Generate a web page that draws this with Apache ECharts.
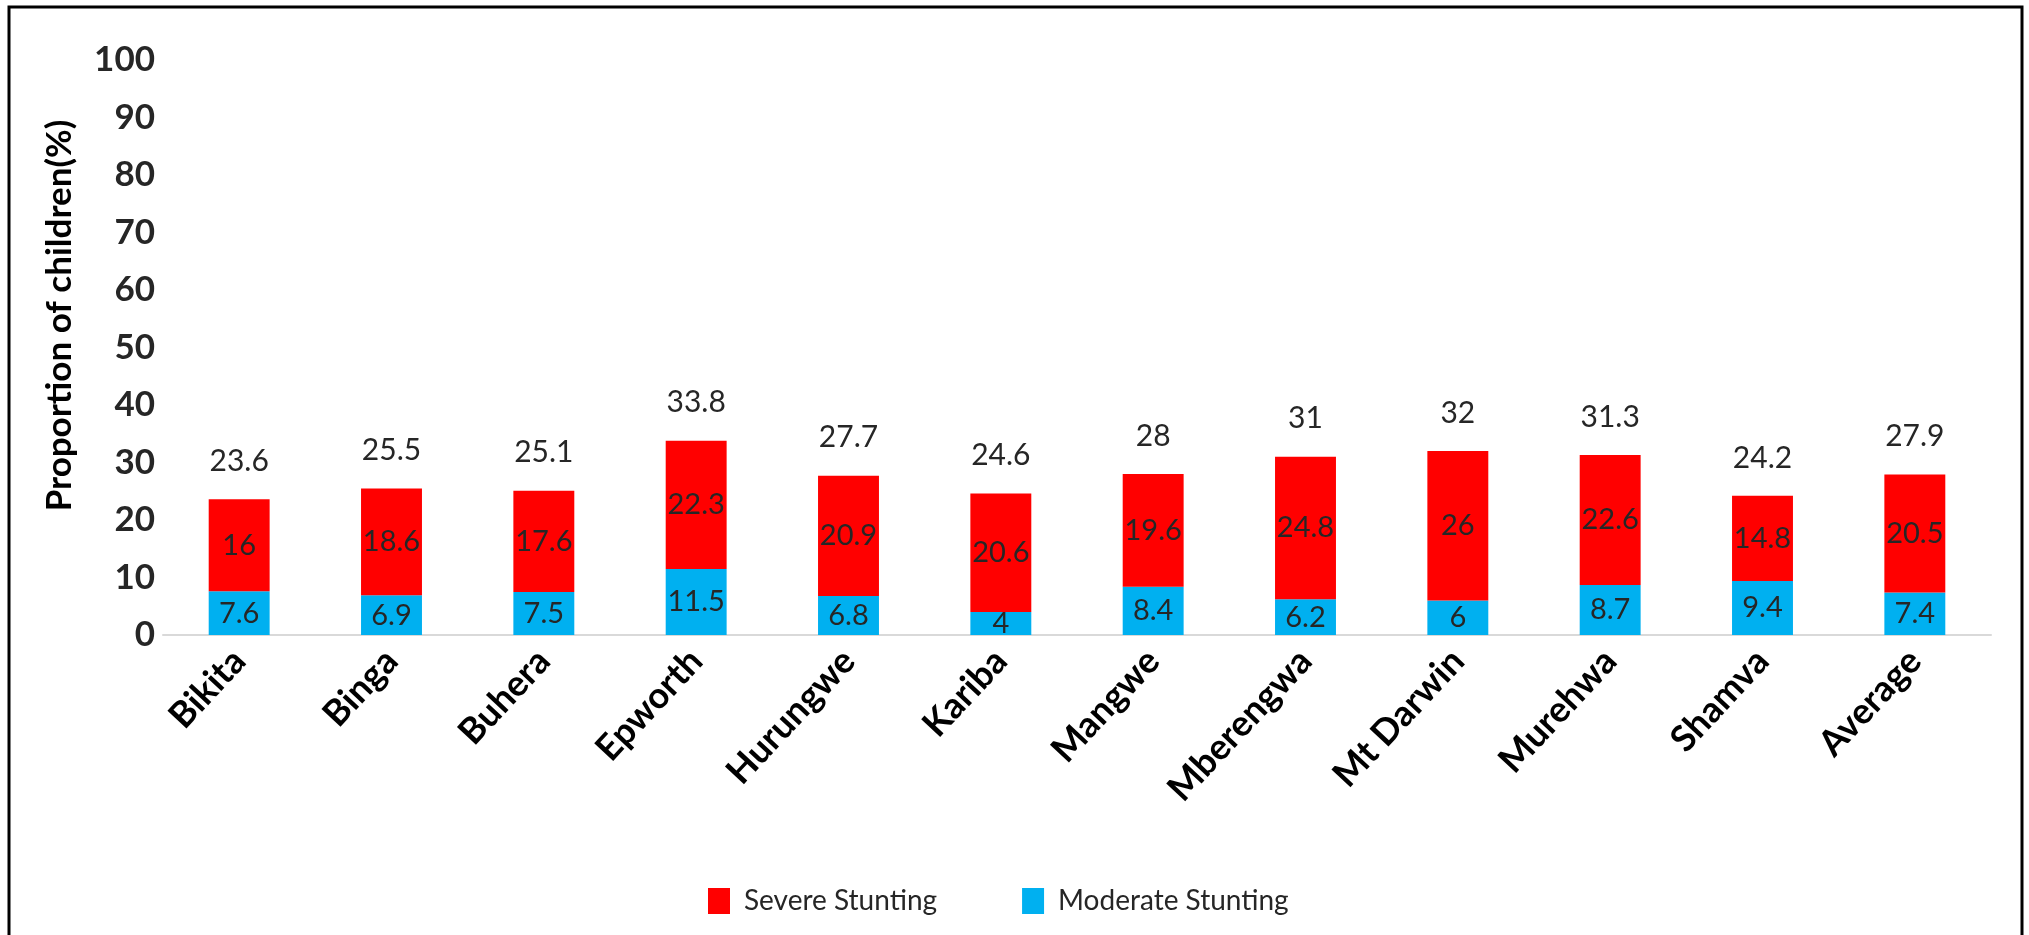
<!DOCTYPE html>
<html>
<head>
<meta charset="utf-8">
<script src="https://cdn.jsdelivr.net/npm/echarts@6/dist/echarts.min.js"></script>
<style>
html,body{margin:0;padding:0;background:#fff;}
#chart{width:2029px;height:935px;}
</style>
</head>
<body>
<div id="chart"></div>
<script>
const categories = ['Bikita','Binga','Buhera','Epworth','Hurungwe','Kariba','Mangwe','Mberengwa','Mt Darwin','Murehwa','Shamva','Average'];
const moderate = [7.6, 6.9, 7.5, 11.5, 6.8, 4, 8.4, 6.2, 6, 8.7, 9.4, 7.4];
const severe = [16, 18.6, 17.6, 22.3, 20.9, 20.6, 19.6, 24.8, 26, 22.6, 14.8, 20.5];
const totals = [23.6, 25.5, 25.1, 33.8, 27.7, 24.6, 28, 31, 32, 31.3, 24.2, 27.9];
const yTicks = [0, 10, 20, 30, 40, 50, 60, 70, 80, 90, 100];

const chart = echarts.init(document.getElementById('chart'));
const font = 'Lato, "Open Sans", sans-serif';
chart.setOption({
  animation: false,
  backgroundColor: '#fff',
  textStyle: { fontFamily: font },
  graphic: [{
    type: 'rect',
    shape: { x: 9, y: 7, width: 2013, height: 960 },
    style: { fill: 'none', stroke: '#000', lineWidth: 3 },
    silent: true
  }],
  grid: { left: 163, right: 38, top: 60, bottom: 300, containLabel: false },
  legend: {
    data: ['Severe Stunting', 'Moderate Stunting'],
    left: 703, top: 882,
    icon: 'rect', itemWidth: 22, itemHeight: 26, itemGap: 85,
    textStyle: { fontFamily: font, fontSize: 28, color: '#262626', padding: [0, 0, 0, 9] }
  },
  xAxis: {
    type: 'category',
    data: categories,
    axisLine: { lineStyle: { color: '#D9D9D9', width: 2 } },
    axisTick: { show: false },
    axisLabel: { rotate: 47, fontSize: 36, fontWeight: 'bold', color: '#000', margin: 20, fontFamily: font, interval: 0 }
  },
  yAxis: {
    type: 'value',
    min: yTicks[0], max: yTicks[yTicks.length - 1], interval: 10,
    axisLine: { show: false },
    axisTick: { show: false },
    splitLine: { show: false },
    axisLabel: { fontSize: 35, fontWeight: 'bold', color: '#262626', margin: 8, fontFamily: font },
    name: 'Proportion of children(%)',
    nameLocation: 'middle',
    nameGap: 86,
    nameRotate: 90,
    nameTextStyle: { fontSize: 35, fontWeight: 'bold', color: '#000', fontFamily: font, padding: [0, 0, 0, 64] }
  },
  series: [
    {
      name: 'Moderate Stunting', type: 'bar', stack: 's', data: moderate,
      barWidth: '40%', barGap: '-100%',
      itemStyle: { color: '#00B0F0' },
      label: { show: true, position: 'inside', fontSize: 29, color: '#262626', fontFamily: font }
    },
    {
      name: 'Severe Stunting', type: 'bar', stack: 's', data: severe,
      barWidth: '40%', barGap: '-100%',
      itemStyle: { color: '#FF0000' },
      label: { show: true, position: 'inside', fontSize: 29, color: '#262626', fontFamily: font }
    },
    {
      name: 'Total', type: 'bar', data: totals,
      barWidth: '40%', barGap: '-100%', z: 0, silent: true,
      itemStyle: { color: 'rgba(0,0,0,0)' },
      label: { show: true, position: 'top', distance: 23, fontSize: 30, color: '#262626', fontFamily: font }
    }
  ]
});
</script>
</body>
</html>
